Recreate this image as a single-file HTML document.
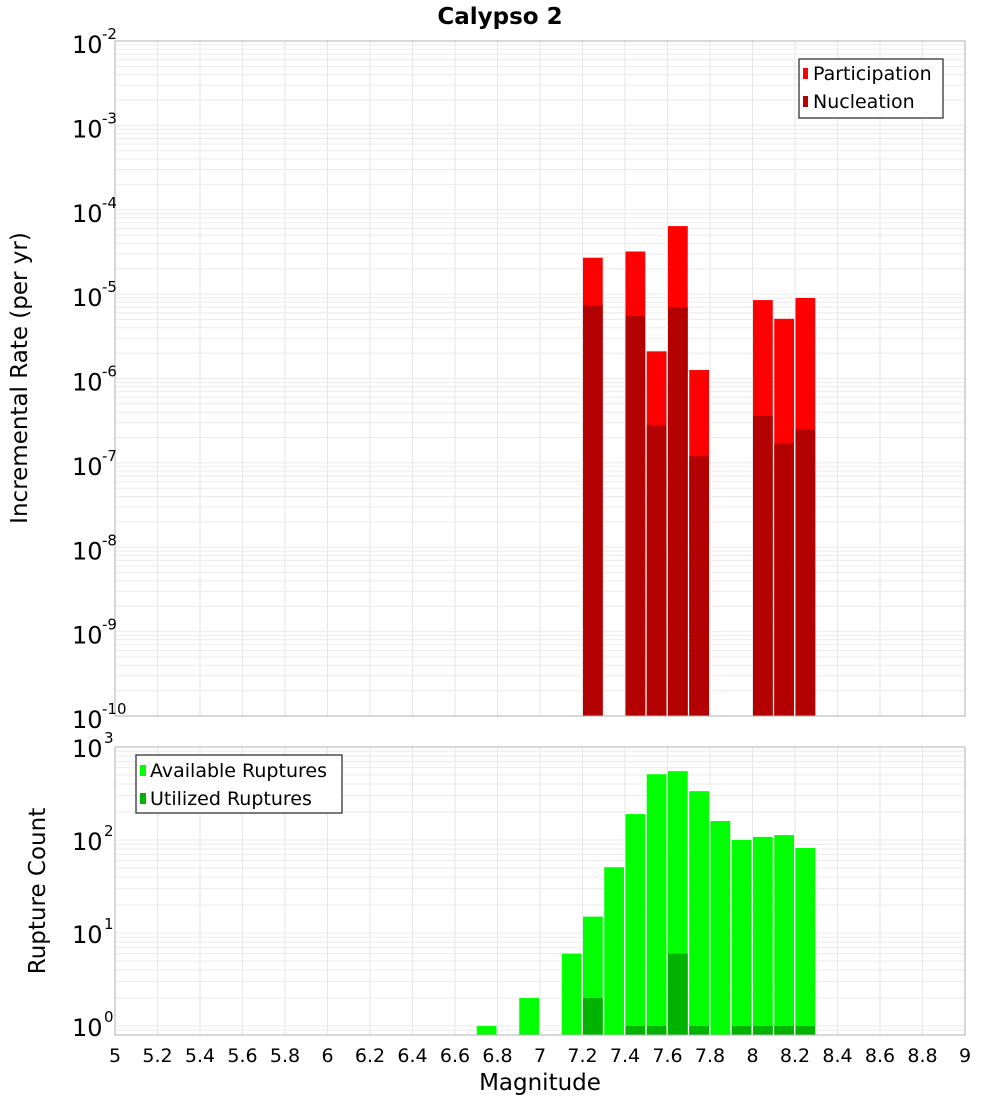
<!DOCTYPE html>
<html><head><meta charset="utf-8"><style>
body{margin:0;background:#fff;}
svg{display:block;font-family:"DejaVu Sans","Liberation Sans",sans-serif;}
</style></head><body>
<svg id="c" width="1000" height="1100" viewBox="0 0 1000 1100"></svg>
<script>
const bins=[6.75,6.95,7.15,7.25,7.35,7.45,7.55,7.65,7.75,7.85,7.95,8.05,8.15,8.25];
const participation=[null,null,null,2.7e-5,null,3.2e-5,2.1e-6,6.4e-5,1.26e-6,null,null,8.5e-6,5.1e-6,9e-6];
const nucleation=[null,null,null,7.4e-6,null,5.5e-6,2.8e-7,7.0e-6,1.2e-7,null,null,3.6e-7,1.7e-7,2.5e-7];
const available=[1,2,6,15,51,190,510,550,335,160,100,108,113,82];
const utilized=[null,null,null,2,null,1,1,6,1,null,1,1,1,1];
const xTicks=[5,5.2,5.4,5.6,5.8,6,6.2,6.4,6.6,6.8,7,7.2,7.4,7.6,7.8,8,8.2,8.4,8.6,8.8,9];
const topExps=[-2,-3,-4,-5,-6,-7,-8,-9,-10];
const botExps=[3,2,1,0];

const NS="http://www.w3.org/2000/svg";
const svg=document.getElementById('c');
function el(t,a,p){const e=document.createElementNS(NS,t);for(const k in a)e.setAttribute(k,a[k]);(p||svg).appendChild(e);return e;}
const L=115,R=965;
const xs=m=>L+(m-5)*(R-L)/4;
const T1=41,B1=716;
const yT=v=>T1+(-2-Math.log10(v))*(B1-T1)/8;
const T2=747,B2=1035;
const yB=v=>1026-Math.log10(v)*93;

function grid(g,top,bot,decs,yf){
  xTicks.forEach(t=>{el('line',{x1:xs(t),x2:xs(t),y1:top,y2:bot,stroke:'#e6e6e6','stroke-width':1},g);});
  decs.forEach(d=>{for(let k=1;k<10;k++){const y=yf(k*Math.pow(10,d));if(y>=top&&y<=bot)el('line',{x1:L,x2:R,y1:y,y2:y,stroke:'#ebebeb','stroke-width':1},g);}});
}
let t=el('text',{x:500,y:24,'text-anchor':'middle','font-size':23,'font-weight':'bold'});t.textContent='Calypso 2';


const g1=el('g',{});
grid(g1,T1,B1,[-10,-9,-8,-7,-6,-5,-4,-3],yT);
bins.forEach((b,i)=>{
  if(participation[i]!=null){const r=el('rect',{x:xs(b-0.05)+0.5,y:yT(participation[i]),width:xs(b+0.05)-xs(b-0.05)-1.5,height:B1-yT(participation[i]),fill:'#ff0000'},g1);
  }
  if(nucleation[i]!=null){const r=el('rect',{x:xs(b-0.05)+0.5,y:yT(nucleation[i]),width:xs(b+0.05)-xs(b-0.05)-1.5,height:B1-yT(nucleation[i]),fill:'#b30000'},g1);
  }
});
el('rect',{x:L,y:T1,width:R-L,height:B1-T1,fill:'none',stroke:'#b0b0b0'},g1);
topExps.forEach(d=>{const y=yT(Math.pow(10,d));
  const tx=el('text',{x:72,y:y+12,'font-size':24},g1);tx.textContent='10';
  
  const ex=el('text',{x:102,y:y-2,'font-size':15},g1);ex.textContent=String(d);});
const yt1=el('text',{x:0,y:0,'font-size':23,'text-anchor':'middle',transform:'translate(27,378) rotate(-90)'});yt1.textContent='Incremental Rate (per yr)';

const lg1=el('g',{});
el('rect',{x:799,y:59,width:144,height:59,fill:'#fff',stroke:'#333','stroke-width':1.3},lg1);
el('rect',{x:803,y:68,width:5,height:11,fill:'#ff0000'},lg1);
let lt=el('text',{x:813,y:80,'font-size':19},lg1);lt.textContent='Participation';
el('rect',{x:803,y:96,width:5,height:11,fill:'#b30000'},lg1);
lt=el('text',{x:813,y:108,'font-size':19},lg1);lt.textContent='Nucleation';

const g2=el('g',{});
grid(g2,T2,B2,[-1,0,1,2],yB);
bins.forEach((b,i)=>{
  const r=el('rect',{x:xs(b-0.05)+0.5,y:yB(available[i]),width:xs(b+0.05)-xs(b-0.05)-1.5,height:B2-yB(available[i]),fill:'#00ff00'},g2);
  
  if(utilized[i]!=null){const u=el('rect',{x:xs(b-0.05)+0.5,y:yB(utilized[i]),width:xs(b+0.05)-xs(b-0.05)-1.5,height:B2-yB(utilized[i]),fill:'#00b300'},g2);
  }
});
el('rect',{x:L,y:T2,width:R-L,height:B2-T2,fill:'none',stroke:'#b0b0b0'},g2);
botExps.forEach(d=>{const y=yB(Math.pow(10,d));
  const tx=el('text',{x:72,y:y+10,'font-size':24},g2);tx.textContent='10';
  
  const ex=el('text',{x:104,y:y-4,'font-size':15},g2);ex.textContent=String(d);});
xTicks.forEach(tk=>{const tx=el('text',{x:xs(tk),y:1062,'font-size':19,'text-anchor':'middle'},g2);tx.textContent=String(tk);
  });
const yt2=el('text',{x:0,y:0,'font-size':23,'text-anchor':'middle',transform:'translate(45,891) rotate(-90)'});yt2.textContent='Rupture Count';

const xt=el('text',{x:540,y:1090,'font-size':23,'text-anchor':'middle'});xt.textContent='Magnitude';

const lg2=el('g',{});
el('rect',{x:136,y:755,width:206,height:58,fill:'#fff',stroke:'#333','stroke-width':1.3},lg2);
el('rect',{x:140,y:765,width:6,height:11,fill:'#00ff00'},lg2);
lt=el('text',{x:150,y:777,'font-size':19},lg2);lt.textContent='Available Ruptures';
el('rect',{x:140,y:793,width:6,height:11,fill:'#00b300'},lg2);
lt=el('text',{x:150,y:805,'font-size':19},lg2);lt.textContent='Utilized Ruptures';
</script>
</body></html>
